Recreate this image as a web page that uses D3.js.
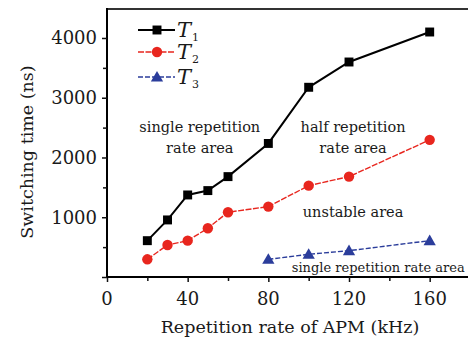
<!DOCTYPE html>
<html><head><meta charset="utf-8">
<script src="https://cdn.jsdelivr.net/npm/d3@7"></script>
<style>
html,body{margin:0;padding:0;background:#fff;}
svg{display:block;}
text{font-family:"DejaVu Serif",serif;fill:#1a1a1a;}
</style></head>
<body>
<svg id="c" width="468" height="339"></svg>
<script>
const freqT1 = [20, 30, 40, 50, 60, 80, 100, 120, 160];
const valT1 = [608, 955, 1373, 1446, 1680, 2235, 3175, 3598, 4100];
const freqT2 = [20, 30, 40, 50, 60, 80, 100, 120, 160];
const valT2 = [296, 536, 608, 816, 1084, 1178, 1529, 1680, 2295];
const freqT3 = [80, 100, 120, 160];
const valT3 = [296, 380, 441, 608];
const xTicks = [0, 40, 80, 120, 160];
const yTicks = [1000, 2000, 3000, 4000];
const seriesNames = ["1", "2", "3"];
const areaLabels = [
  {lines: ["single repetition", "rate area"], x: 46, y: 2420, size: 14.5},
  {lines: ["half repetition", "rate area"], x: 122, y: 2420, size: 14.5},
  {lines: ["unstable area"], x: 122, y: 1010, size: 14.5},
  {lines: ["single repetition rate area"], x: 134.5, y: 85, size: 13}
];

const svg = d3.select("#c");
const x = d3.scaleLinear().domain([0, 179]).range([107, 468]);
const y = d3.scaleLinear().domain([0, 4485]).range([277, 9]);

// frame top
svg.append("line").attr("x1", x(0)).attr("x2", x(179)).attr("y1", y(4485)).attr("y2", y(4485))
  .attr("stroke", "#333").attr("stroke-width", 2);

// x axis
const xAxis = svg.append("g").attr("transform", `translate(0,${y(0)})`);
xAxis.call(d3.axisBottom(x).tickValues(d3.range(0, 180, 20)).tickSize(5).tickFormat(""));
xAxis.call(g => g.selectAll(".tick").filter(d => d % 40 !== 0).select("line").attr("y2", 4));
xAxis.select(".domain").attr("stroke-width", 2).attr("d", `M${x(0)-1},0H${x(179)}`);
xAxis.selectAll(".tick line").attr("stroke-width", 1.5).attr("stroke", "#111");
xAxis.selectAll(".lbl").data(xTicks).enter().append("text")
  .attr("x", d => x(d)).attr("y", 28).attr("text-anchor", "middle")
  .attr("font-size", 18).text(d => d);

// y axis
const yAxis = svg.append("g").attr("transform", `translate(${x(0)},0)`);
yAxis.call(d3.axisLeft(y).tickValues(d3.range(0, 4485, 500)).tickSize(5).tickFormat(""));
yAxis.call(g => g.selectAll(".tick").filter(d => d % 1000 !== 0).select("line").attr("x2", -4));
yAxis.select(".domain").attr("stroke-width", 2).attr("d", `M0,${y(0)+1}V${y(4485)-1}`);
yAxis.selectAll(".tick line").attr("stroke-width", 1.5).attr("stroke", "#111");
yAxis.selectAll(".lbl").data(yTicks).enter().append("text")
  .attr("x", -10).attr("y", d => y(d)).attr("dy", "0.36em").attr("text-anchor", "end")
  .attr("font-size", 18).text(d => d);

// axis titles
svg.append("text").attr("x", 290).attr("y", 333).attr("text-anchor", "middle")
  .attr("font-size", 17.5).text("Repetition rate of APM (kHz)");
svg.append("text").attr("transform", "translate(33,152) rotate(-90)").attr("text-anchor", "middle")
  .attr("font-size", 17.5).text("Switching time (ns)");

// series
const series = [
  {f: freqT1, v: valT1, color: "#000", dash: null, w: 2, shape: d3.symbolSquare, size: 80},
  {f: freqT2, v: valT2, color: "#e8261e", dash: "6,1.5", w: 1.4, shape: d3.symbolCircle, size: 85},
  {f: freqT3, v: valT3, color: "#2b3d9b", dash: "5,2", w: 1.4, shape: d3.symbolTriangle, size: 65}
];
const line = d3.line().x(d => x(d[0])).y(d => y(d[1]));
series.forEach(s => {
  const pts = s.f.map((f, i) => [f, s.v[i]]);
  svg.append("path").attr("d", line(pts)).attr("fill", "none")
    .attr("stroke", s.color).attr("stroke-width", s.w).attr("stroke-dasharray", s.dash);
  svg.selectAll(null).data(pts).enter().append("path")
    .attr("d", d3.symbol().type(s.shape).size(s.size))
    .attr("transform", d => `translate(${x(d[0])},${y(d[1]) + (s.shape === d3.symbolTriangle ? 1 : 0)})`)
    .attr("fill", s.color);
});

// legend
const legY = [30, 52, 77];
series.forEach((s, i) => {
  const g = svg.append("g").attr("transform", `translate(0,${legY[i]})`);
  g.append("line").attr("x1", 138).attr("x2", 175).attr("stroke", s.color)
    .attr("stroke-width", s.w).attr("stroke-dasharray", s.dash);
  g.append("path").attr("d", d3.symbol().type(s.shape).size(s.size))
    .attr("transform", `translate(157,${s.shape === d3.symbolTriangle ? 1 : 0})`).attr("fill", s.color);
  const t = g.append("text").attr("x", 177).attr("y", 7).attr("font-size", 21)
    .attr("font-style", "italic").attr("font-family", "Liberation Serif").attr("fill", "#222");
  t.append("tspan").text("T");
  t.append("tspan").attr("font-size", 11).attr("font-style", "normal").attr("dx", 1).attr("dy", 4).text(seriesNames[i]);
});

// area labels
areaLabels.forEach(a => {
  const t = svg.append("text").attr("text-anchor", "middle").attr("font-size", a.size)
    .attr("x", x(a.x)).attr("y", y(a.y)).attr("fill", "#333");
  a.lines.forEach((l, i) => t.append("tspan").attr("x", x(a.x)).attr("dy", i === 0 ? 0 : "1.4em").text(l));
});
</script>
</body></html>
